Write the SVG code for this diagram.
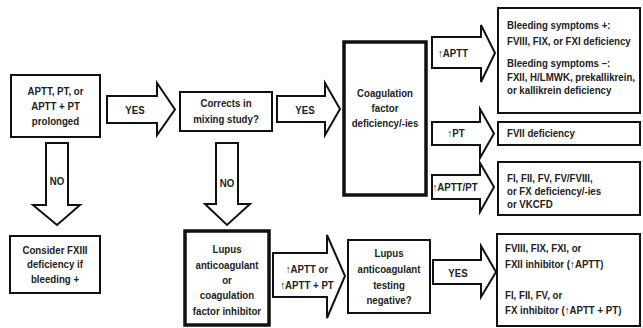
<svg xmlns="http://www.w3.org/2000/svg" width="643" height="328" viewBox="0 0 643 328">
<style>
text{font-family:"Liberation Sans",Arial,sans-serif;font-weight:bold;font-size:11px;fill:#222}
.c text{text-anchor:middle}
.box{fill:#fff;stroke:#111;stroke-width:2}
.thick{fill:#fff;stroke:#111;stroke-width:3.5}
.arr{fill:#fff;stroke:#111;stroke-width:2;stroke-linejoin:miter}
</style>
<rect width="643" height="328" fill="#fff"/>
<g id="connectors">
<polygon class="arr" points="107,96 157,96 157,83 175,109.5 157,135 157,123 107,123"/>
<g class="c" transform="translate(135 0) scale(0.88 1)"><text x="0" y="114">YES</text></g>
<polygon class="arr" points="277,96 325,96 325,83 340,109 325,135 325,122 277,122"/>
<g class="c" transform="translate(305 0) scale(0.88 1)"><text x="0" y="114">YES</text></g>
<polygon class="arr" points="432,37 481,37 481,25 495,53 481,82 481,68 432,68"/>
<g class="c" transform="translate(453 0) scale(0.88 1)"><text x="0" y="57">↑APTT</text></g>
<polygon class="arr" points="432,122 480,122 480,109 494,133.5 480,158 480,145 432,145"/>
<g class="c" transform="translate(456 0) scale(0.88 1)"><text x="0" y="137">↑PT</text></g>
<polygon class="arr" points="432,175 480,175 480,163 494,187 480,212 480,199 432,199"/>
<g class="c" transform="translate(455 0) scale(0.88 1)"><text x="0" y="191">↑APTT/PT</text></g>
<polygon class="arr" points="273,253 327,253 327,235 345,276 327,318 327,297 273,297"/>
<g class="c" transform="translate(307 0) scale(0.88 1)"><text x="0" y="273">↑APTT or</text><text x="0" y="289">↑APTT + PT</text></g>
<polygon class="arr" points="433,260 481,260 481,246 496,272 481,297 481,284 433,284"/>
<g class="c" transform="translate(458 0) scale(0.88 1)"><text x="0" y="277">YES</text></g>
<polygon class="arr" points="46,143 68,143 68,205 80,205 57,225 33,205 46,205"/>
<g class="c" transform="translate(57 0) scale(0.88 1)"><text x="0" y="185">NO</text></g>
<polygon class="arr" points="216,143 238,143 238,204 250,204 227,225 205,204 216,204"/>
<g class="c" transform="translate(227 0) scale(0.88 1)"><text x="0" y="187">NO</text></g>
</g>
<g id="n-prolonged">
<rect class="box" x="11" y="75" width="89" height="62"/>
<g class="c" transform="translate(55.5 0) scale(0.88 1)">
<text x="0" y="95">APTT, PT, or</text>
<text x="0" y="110">APTT + PT</text>
<text x="0" y="125">prolonged</text>
</g>
</g>
<g id="n-mixing">
<rect class="box" x="180" y="92" width="92" height="39"/>
<g class="c" transform="translate(226 0) scale(0.88 1)">
<text x="0" y="107">Corrects in</text>
<text x="0" y="123">mixing study?</text>
</g>
</g>
<g id="n-coag">
<rect class="thick" x="344" y="42" width="82" height="153"/>
<g class="c" transform="translate(385 0) scale(0.88 1)">
<text x="0" y="97">Coagulation</text>
<text x="0" y="112">factor</text>
<text x="0" y="127">deficiency/-ies</text>
</g>
</g>
<g id="n-bleeding">
<rect class="box" x="498" y="8" width="142" height="105"/>
<g transform="translate(507 0) scale(0.88 1)">
<text x="0" y="29">Bleeding symptoms +:</text>
<text x="0" y="45">FVIII, FIX, or FXI deficiency</text>
<text x="0" y="67">Bleeding symptoms –:</text>
<text x="0" y="81">FXII, H/LMWK, prekallikrein,</text>
<text x="0" y="94">or kallikrein deficiency</text>
</g>
</g>
<g id="n-fvii">
<rect class="box" x="498" y="122" width="142" height="23"/>
<g transform="translate(507 0) scale(0.88 1)"><text x="0" y="137">FVII deficiency</text></g>
</g>
<g id="n-fi">
<rect class="box" x="498" y="162" width="142" height="53"/>
<g transform="translate(507 0) scale(0.88 1)">
<text x="0" y="182">FI, FII, FV, FV/FVIII,</text>
<text x="0" y="195">or FX deficiency/-ies</text>
<text x="0" y="208">or VKCFD</text>
</g>
</g>
<g id="n-fxiii">
<rect class="box" x="10" y="236" width="90" height="57"/>
<g class="c" transform="translate(55 0) scale(0.88 1)">
<text x="0" y="254">Consider FXIII</text>
<text x="0" y="268">deficiency if</text>
<text x="0" y="283">bleeding +</text>
</g>
</g>
<g id="n-lupus-inhibitor">
<rect class="thick" x="185" y="231" width="84" height="94"/>
<g class="c" transform="translate(227 0) scale(0.88 1)">
<text x="0" y="253">Lupus</text>
<text x="0" y="269">anticoagulant</text>
<text x="0" y="284">or</text>
<text x="0" y="299">coagulation</text>
<text x="0" y="315">factor inhibitor</text>
</g>
</g>
<g id="n-lupus-testing">
<rect class="box" x="348" y="240" width="82" height="73"/>
<g class="c" transform="translate(389 0) scale(0.88 1)">
<text x="0" y="257">Lupus</text>
<text x="0" y="273">anticoagulant</text>
<text x="0" y="289">testing</text>
<text x="0" y="304">negative?</text>
</g>
</g>
<g id="n-inhibitors">
<rect class="box" x="497" y="234" width="143" height="92"/>
<g transform="translate(505 0) scale(0.88 1)">
<text x="0" y="252">FVIII, FIX, FXI, or</text>
<text x="0" y="268">FXII inhibitor (↑APTT)</text>
<text x="0" y="299">FI, FII, FV, or</text>
<text x="0" y="314">FX inhibitor (↑APTT + PT)</text>
</g>
</g>
</svg>
